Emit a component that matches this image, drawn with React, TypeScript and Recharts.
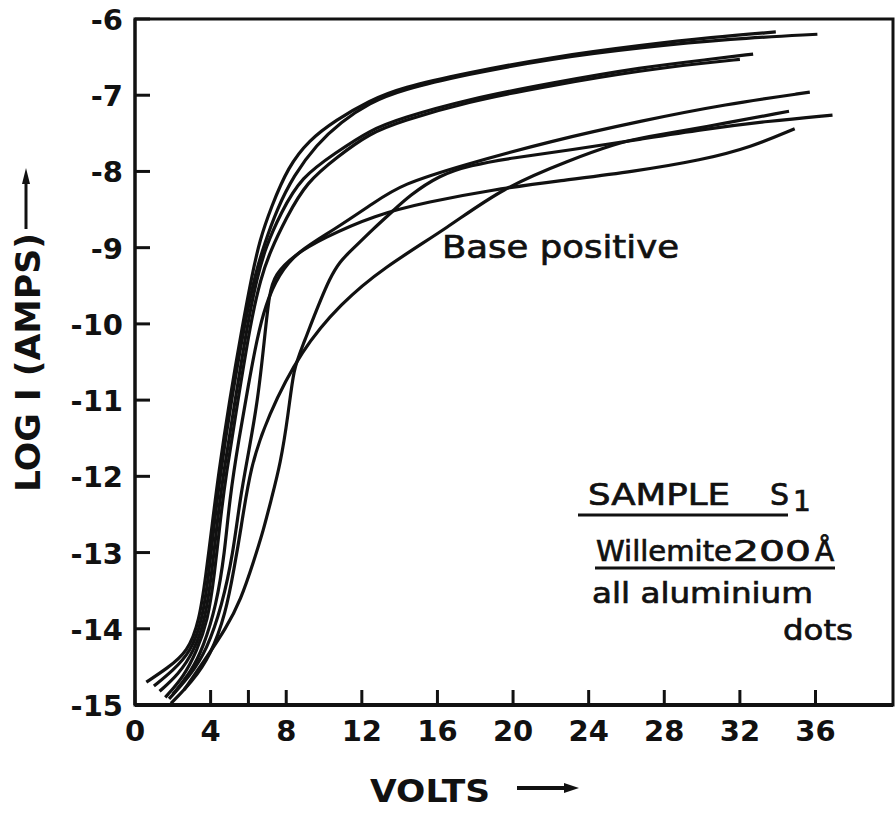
import { LineChart, Line, XAxis, YAxis, ReferenceArea } from 'recharts';

// volts on x, log10 of current (amps) on y
const xTicks = [0, 4, 6, 8, 12, 16, 20, 24, 28, 32, 36];
const xTickLabels = ['0', '4', '', '8', '12', '16', '20', '24', '28', '32', '36'];
const yTicks = [-15, -14, -13, -12, -11, -10, -9, -8, -7, -6];

// each curve: [volts, log I]
const curveA: [number, number][] = [
  [0.6, -14.7], [1.7, -14.52], [2.8, -14.3], [3.4, -13.9], [3.75, -13.3], [4.1, -12.6],
  [4.4, -12.0], [5.0, -11.0], [5.7, -10.0], [6.2, -9.35], [6.6, -8.9], [7.2, -8.47],
  [8.1, -7.94], [9.2, -7.59], [10.6, -7.33], [12.4, -7.07], [14.1, -6.9], [17.5, -6.71],
  [22.0, -6.5], [26.9, -6.34], [30.5, -6.24], [33.9, -6.17],
];
const curveB: [number, number][] = [
  [1.0, -14.75], [2.0, -14.55], [2.95, -14.3], [3.55, -13.9], [3.9, -13.3], [4.2, -12.6],
  [4.5, -12.0], [5.1, -11.0], [5.8, -10.0], [6.35, -9.35], [6.85, -8.95], [7.5, -8.5],
  [8.4, -8.05], [9.6, -7.65], [10.9, -7.35], [12.4, -7.1], [14.1, -6.93], [17.5, -6.73],
  [22.0, -6.52], [26.9, -6.37], [31.5, -6.26], [36.1, -6.2],
];
const curveC: [number, number][] = [
  [1.3, -14.82], [2.3, -14.6], [3.1, -14.3], [3.7, -13.9], [4.05, -13.3], [4.35, -12.6],
  [4.65, -12.0], [5.3, -11.0], [5.95, -10.0], [6.45, -9.4], [6.9, -9.0], [7.7, -8.55],
  [8.8, -8.07], [10.6, -7.76], [12.4, -7.46], [14.1, -7.3], [17.5, -7.06], [22.0, -6.84],
  [26.9, -6.63], [30.4, -6.53], [32.7, -6.46],
];
const curveC2: [number, number][] = [
  [1.6, -14.9], [2.6, -14.62], [3.25, -14.3], [3.85, -13.9], [4.2, -13.3], [4.5, -12.6],
  [4.8, -12.0], [5.45, -11.0], [6.1, -10.0], [6.65, -9.4], [7.15, -9.05], [8.0, -8.61],
  [9.07, -8.14], [10.7, -7.81], [12.4, -7.5], [14.1, -7.34], [17.5, -7.09], [22.0, -6.87],
  [26.9, -6.67], [30.0, -6.58], [32.0, -6.53],
];
const curveD: [number, number][] = [
  [2.0, -14.86], [3.0, -14.55], [3.6, -14.25], [4.3, -13.7], [4.75, -13.0], [5.0, -12.3],
  [5.5, -11.5], [6.0, -10.8], [6.45, -10.2], [6.9, -9.75], [7.6, -9.35], [8.6, -9.05],
  [10.5, -8.77], [12.7, -8.4], [14.1, -8.17], [17.3, -7.92], [22.0, -7.6], [26.9, -7.33],
  [31.2, -7.12], [35.7, -6.96],
];
const curveE: [number, number][] = [
  [1.9, -14.98], [3.0, -14.7], [4.0, -14.35], [4.8, -13.8], [5.25, -13.2], [5.6, -12.7],
  [6.1, -11.88], [7.0, -11.22], [8.8, -10.34], [10.9, -9.73], [13.1, -9.27], [16.6, -8.73],
  [19.4, -8.22], [23.0, -7.85], [25.5, -7.63], [26.9, -7.55], [30.1, -7.42], [34.6, -7.21],
];
const curveF: [number, number][] = [
  [2.6, -14.8], [3.8, -14.37], [4.8, -14.0], [5.6, -13.62], [6.3, -13.1], [6.8, -12.7],
  [7.2, -12.31], [7.7, -11.83], [8.1, -11.2], [8.4, -10.57], [8.8, -10.34], [10.4, -9.29],
  [11.3, -9.07], [12.7, -8.73], [13.6, -8.53], [14.5, -8.32], [16.1, -8.05], [17.7, -7.92],
  [20.0, -7.82], [23.0, -7.72], [26.9, -7.57], [30.0, -7.45], [33.5, -7.34], [36.9, -7.26],
];
const curveG: [number, number][] = [
  [1.8, -14.92], [2.9, -14.62], [3.8, -14.28], [4.6, -13.7], [5.2, -13.0], [5.55, -12.3],
  [6.0, -11.7], [6.5, -11.0], [6.85, -10.2], [7.1, -9.6], [7.4, -9.35], [8.4, -9.1],
  [9.9, -8.88], [12.7, -8.57], [15.5, -8.4], [18.9, -8.24], [22.5, -8.12], [26.4, -8.0],
  [30.0, -7.85], [32.6, -7.68], [34.9, -7.44],
];

const curves = [curveA, curveB, curveC, curveC2, curveD, curveE, curveF, curveG];

const toPoints = (c: [number, number][]) => c.map(([v, logI]) => ({ v, logI }));

const font = '"DejaVu Sans", sans-serif';
const ink = '#111';
// hand lettering is a little heavier than the regular face
const note = { fontFamily: font, fill: ink, stroke: ink, strokeWidth: 0.7 };

function XTick(props: any) {
  const i = xTicks.indexOf(props.payload.value);
  return (
    <text x={props.x} y={props.y} textAnchor="middle" fontFamily={font} fontWeight="bold" fontSize={29} fill={ink}>
      {xTickLabels[i]}
    </text>
  );
}

function YTick(props: any) {
  return (
    <text x={props.x} y={props.y} dy={11} textAnchor="end" fontFamily={font} fontWeight="bold" fontSize={29} fill={ink}>
      {String(props.payload.value)}
    </text>
  );
}

export default function App() {
  return (
    <div style={{ position: 'absolute', left: 0, top: 0, width: 896, height: 813, background: '#fff' }}>
      <LineChart width={896} height={813} margin={{ top: 19, right: 3, left: 0, bottom: 0 }}>
        <XAxis
          dataKey="v"
          type="number"
          domain={[0, 40.1]}
          ticks={xTicks}
          allowDataOverflow
          height={108}
          tickSize={-15}
          tickMargin={51}
          axisLine={{ stroke: ink, strokeWidth: 4 }}
          tickLine={{ stroke: ink, strokeWidth: 3 }}
          tick={XTick}
        />
        <YAxis
          dataKey="logI"
          type="number"
          domain={[-15, -6]}
          ticks={yTicks}
          allowDataOverflow
          width={135}
          tickSize={-15}
          tickMargin={27}
          axisLine={{ stroke: ink, strokeWidth: 3 }}
          tickLine={{ stroke: ink, strokeWidth: 3 }}
          tick={YTick}
        />
        <ReferenceArea x1={0} x2={40.1} y1={-15} y2={-6} fill="none" stroke={ink} strokeWidth={3} />
        {curves.map((c, i) => (
          <Line
            key={i}
            data={toPoints(c)}
            dataKey="logI"
            type="basis"
            stroke={ink}
            strokeWidth={3.2}
            dot={false}
            isAnimationActive={false}
          />
        ))}

        <text x={442} y={258} {...note} fontSize={32} textLength={237} lengthAdjust="spacingAndGlyphs">
          Base positive
        </text>

        <text x={588} y={505} {...note} fontSize={30} textLength={142} lengthAdjust="spacingAndGlyphs">
          SAMPLE
        </text>
        <text x={770} y={505} {...note} fontSize={30}>
          S
        </text>
        <text x={793} y={511} {...note} fontSize={28}>
          1
        </text>
        <line x1={578} y1={515} x2={788} y2={515} stroke={ink} strokeWidth={3} />

        <text x={596} y={561} {...note} fontSize={28} textLength={136} lengthAdjust="spacingAndGlyphs">
          Willemite
        </text>
        <text x={733} y={561} {...note} fontSize={28} textLength={78} lengthAdjust="spacingAndGlyphs">
          200
        </text>
        <text x={815} y={561} {...note} fontSize={28}>
          Å
        </text>
        <line x1={595} y1={568} x2={835} y2={568} stroke={ink} strokeWidth={3} />

        <text x={592} y={603} {...note} fontSize={28} textLength={221} lengthAdjust="spacingAndGlyphs">
          all aluminium
        </text>
        <text x={783} y={640} {...note} fontSize={28} textLength={70} lengthAdjust="spacingAndGlyphs">
          dots
        </text>

        <text x={370} y={802} fontFamily={font} fontWeight="bold" fontSize={32} fill={ink} textLength={120} lengthAdjust="spacingAndGlyphs">
          VOLTS
        </text>
        <line x1={517} y1={788} x2={568} y2={788} stroke={ink} strokeWidth={4} />
        <path d="M 564 783 L 579 788 L 564 793 Z" fill={ink} />

        <text
          x={40}
          y={492}
          transform="rotate(-90 40 492)"
          fontFamily={font}
          fontWeight="bold"
          fontSize={34}
          fill={ink}
          textLength={259}
          lengthAdjust="spacingAndGlyphs"
        >
          LOG I (AMPS)
        </text>
        <line x1={26} y1={229} x2={26} y2={180} stroke={ink} strokeWidth={3} />
        <path d="M 22 184 L 26 168 L 30 184 Z" fill={ink} />
      </LineChart>
    </div>
  );
}
